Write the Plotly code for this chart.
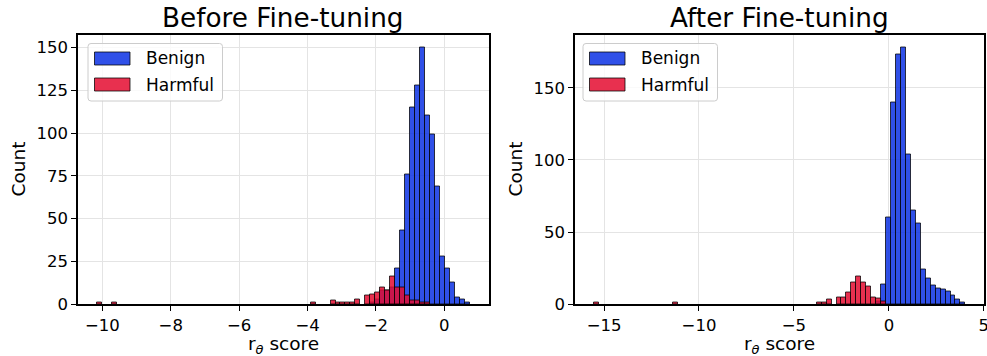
import numpy as np
import plotly.graph_objects as go

# ---------------- data ----------------
N_BINS = 75
left_range = (-10.165, 0.745)      # histogram range, Before Fine-tuning
right_range = (-15.55, 4.03)       # histogram range, After Fine-tuning

# non-zero bins: {bin index: count}
left_benign = {55: 1, 56: 3, 57: 8, 58: 8, 59: 10, 60: 21, 61: 43, 62: 76, 63: 115,
               64: 128, 65: 150, 66: 110, 67: 99, 68: 69, 69: 28, 70: 21, 71: 13,
               72: 4, 73: 3, 74: 1}
left_harmful = {0: 1, 3: 1, 43: 1, 47: 2, 48: 1, 49: 1, 50: 1, 51: 1, 52: 3, 54: 5,
                55: 6, 56: 7, 57: 10, 58: 8, 59: 16, 60: 10, 61: 10, 62: 5, 63: 2,
                64: 2, 65: 1, 66: 1}
right_benign = {57: 2, 58: 14, 59: 60, 60: 140, 61: 173, 62: 178, 63: 104, 64: 65,
                65: 56, 66: 24, 67: 18, 68: 13, 69: 11, 70: 10, 71: 9, 72: 6, 73: 3,
                74: 1}
right_harmful = {0: 1, 16: 1, 45: 1, 46: 1, 47: 3, 49: 5, 50: 5, 51: 8, 52: 15, 53: 19,
                 54: 15, 55: 12, 56: 5, 57: 4, 58: 2}

titles = ["Before Fine-tuning", "After Fine-tuning"]
series_names = ["Benign", "Harmful"]
left_xticks = [-10, -8, -6, -4, -2, 0]
left_yticks = [0, 25, 50, 75, 100, 125, 150]
right_xticks = [-15, -10, -5, 0, 5]
right_yticks = [0, 50, 100, 150]

# ---------------- style ----------------
W, H = 987, 356
FONT = "DejaVu Sans"
BLUE = "rgba(12,49,228,0.85)"
RED = "rgba(228,12,48,0.85)"
EDGE = "rgba(0,0,0,0.75)"
GRID = "#e4e4e4"


def px(x):
    return x / W


def py(y):
    return 1 - y / H


def bars(rng, counts, color, name, xa, ya):
    edges = np.linspace(rng[0], rng[1], N_BINS + 1)
    width = edges[1] - edges[0]
    idx = sorted(counts)
    xs = [edges[i] + width / 2 for i in idx]
    ys = [counts[i] for i in idx]
    return go.Bar(x=xs, y=ys, width=width, name=name, xaxis=xa, yaxis=ya,
                  marker=dict(color=color, line=dict(color=EDGE, width=1)),
                  showlegend=False)


def span(rng, frac=0.05):
    d = rng[1] - rng[0]
    return [rng[0] - frac * d, rng[1] + frac * d]


fig = go.Figure()
fig.add_trace(bars(left_range, left_benign, BLUE, "Benign", "x", "y"))
fig.add_trace(bars(left_range, left_harmful, RED, "Harmful", "x", "y"))
fig.add_trace(bars(right_range, right_benign, BLUE, "Benign", "x2", "y2"))
fig.add_trace(bars(right_range, right_harmful, RED, "Harmful", "x2", "y2"))

axis_common = dict(showline=True, linecolor="black", linewidth=1.6, mirror=True,
                   ticks="outside", ticklen=5, tickwidth=1.2, tickcolor="black",
                   showgrid=True, gridcolor=GRID, gridwidth=1, zeroline=False,
                   tickfont=dict(family=FONT, size=16.5, color="black"),
                   ticklabeloverflow="allow", automargin=False)

L_X0, L_X1 = 78, 488.5
R_X0, R_X1 = 575, 984
Y_TOP, Y_BOT = 34.5, 304.3

left_ymax = max(left_benign.values()) * 1.05
right_ymax = max(right_benign.values()) * 1.05

fig.update_layout(
    width=W, height=H, margin=dict(l=0, r=0, t=0, b=0),
    paper_bgcolor="white", plot_bgcolor="white", barmode="overlay", bargap=0,
    showlegend=False,
    xaxis=dict(domain=[px(L_X0), px(L_X1)], range=span(left_range), tickvals=left_xticks,
               ticktext=[str(v).replace("-", "\u2212") for v in left_xticks], anchor="y", **axis_common),
    yaxis=dict(domain=[py(Y_BOT), py(Y_TOP)], range=[0, left_ymax], tickvals=left_yticks,
               anchor="x", **axis_common),
    xaxis2=dict(domain=[px(R_X0), px(R_X1)], range=span(right_range), tickvals=right_xticks,
                ticktext=[str(v).replace("-", "\u2212") for v in right_xticks], anchor="y2", **axis_common),
    yaxis2=dict(domain=[py(Y_BOT), py(Y_TOP)], range=[0, right_ymax], tickvals=right_yticks,
                anchor="x2", **axis_common),
)

annotations = []
shapes = []


def text(x, y, s, size, xanchor="center", yanchor="middle", angle=0):
    annotations.append(dict(x=px(x), y=py(y), xref="paper", yref="paper", text=s,
                            showarrow=False, xanchor=xanchor, yanchor=yanchor,
                            textangle=angle, font=dict(family=FONT, size=size, color="black")))


def rounded_rect(x0, y0, x1, y1, r):
    # pixel coordinates -> paper path with rounded corners
    pts = []
    segs = [
        ("M", x0 + r, y0), ("L", x1 - r, y0), ("Q", x1, y0, x1, y0 + r),
        ("L", x1, y1 - r), ("Q", x1, y1, x1 - r, y1), ("L", x0 + r, y1),
        ("Q", x0, y1, x0, y1 - r), ("L", x0, y0 + r), ("Q", x0, y0, x0 + r, y0),
    ]
    for s in segs:
        cmd = s[0]
        coords = s[1:]
        pp = []
        for i in range(0, len(coords), 2):
            pp.append(f"{px(coords[i]):.5f},{py(coords[i + 1]):.5f}")
        pts.append(cmd + " " + " ".join(pp))
    return " ".join(pts) + " Z"


for (x0, x1), title in zip([(L_X0, L_X1), (R_X0, R_X1)], titles):
    cx = (x0 + x1) / 2
    text(cx, 18, title, 26.3)
    text(cx, 344.5, "r<sub><i>θ</i></sub> score", 18.5)

text(18, (Y_TOP + Y_BOT) / 2, "Count", 18.5, angle=-90)
text(515, (Y_TOP + Y_BOT) / 2, "Count", 18.5, angle=-90)

# legends
for lx in [88, 583]:
    shapes.append(dict(type="path", xref="paper", yref="paper",
                       path=rounded_rect(lx, 43.5, lx + 134.5, 101, 3),
                       fillcolor="rgba(255,255,255,0.8)", line=dict(color="#cccccc", width=1),
                       layer="above"))
    for j, (col, name) in enumerate([(BLUE, series_names[0]), (RED, series_names[1])]):
        yc = 58.5 + j * 26
        shapes.append(dict(type="rect", xref="paper", yref="paper",
                           x0=px(lx + 6.5), x1=px(lx + 42), y0=py(yc + 6.5), y1=py(yc - 6.5),
                           fillcolor=col, line=dict(color=EDGE, width=1), layer="above"))
        text(lx + 56, yc, name, 17, xanchor="left")

fig.update_layout(annotations=annotations, shapes=shapes)
fig.write_html("out.html")
